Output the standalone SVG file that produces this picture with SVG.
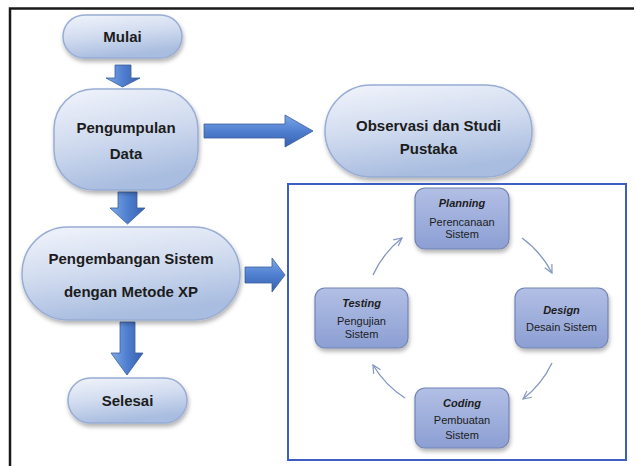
<svg xmlns="http://www.w3.org/2000/svg" width="637" height="466" viewBox="0 0 637 466">
<defs>
<linearGradient id="pillG" x1="0" y1="0" x2="0.3" y2="1">
<stop offset="0" stop-color="#f1f4fb"/>
<stop offset="0.5" stop-color="#d3ddf0"/>
<stop offset="1" stop-color="#a9bde0"/>
</linearGradient>
<linearGradient id="boxG" x1="0" y1="0" x2="0" y2="1">
<stop offset="0" stop-color="#b2bfe5"/>
<stop offset="1" stop-color="#8c9fd3"/>
</linearGradient>
<linearGradient id="arrV" x1="0" y1="0" x2="1" y2="0">
<stop offset="0" stop-color="#7fa8e6"/>
<stop offset="0.5" stop-color="#4f7fd0"/>
<stop offset="1" stop-color="#3960ad"/>
</linearGradient>
<linearGradient id="arrH" x1="0" y1="0" x2="0" y2="1">
<stop offset="0" stop-color="#7fa8e6"/>
<stop offset="0.5" stop-color="#4f7fd0"/>
<stop offset="1" stop-color="#3960ad"/>
</linearGradient>
<filter id="sh" x="-10%" y="-10%" width="130%" height="140%">
<feDropShadow dx="1" dy="3" stdDeviation="2" flood-color="#000" flood-opacity="0.3"/>
</filter>
<marker id="chev" viewBox="0 0 10 10" refX="9" refY="5" markerWidth="10" markerHeight="10" markerUnits="userSpaceOnUse" orient="auto">
<path d="M1,1 L9,5 L1,9" fill="none" stroke="#8596c0" stroke-width="1.2"/>
</marker>
<style>
.pill{fill:url(#pillG);stroke:#98acd4;stroke-width:1.5;filter:url(#sh)}
.box{fill:url(#boxG);stroke:#7384b4;stroke-width:1.2;filter:url(#sh)}
.big{font-family:"Liberation Sans",Arial,sans-serif;font-weight:bold;font-size:15px;fill:#1c1c1c;text-anchor:middle}
.t1{font-family:"Liberation Sans",Arial,sans-serif;font-weight:bold;font-style:italic;font-size:11px;fill:#1c1c1c;text-anchor:middle}
.t2{font-family:"Liberation Sans",Arial,sans-serif;font-size:11px;fill:#1c1c1c;text-anchor:middle}
.av{fill:url(#arrV);stroke:#3a5da0;stroke-width:0.8}
.ah{fill:url(#arrH);stroke:#3a5da0;stroke-width:0.8}
.cyc{fill:none;stroke:#8596c0;stroke-width:1.3;marker-end:url(#chev)}
</style>
</defs>
<rect width="637" height="466" fill="#ffffff"/>
<path d="M10,466 L10,8.5 L634,8.5" fill="none" stroke="#1a1a1a" stroke-width="2.5"/>
<rect id="xp-frame" x="288" y="184" width="338" height="276" fill="none" stroke="#3d5fc4" stroke-width="2"/>

<g id="connectors">
<path class="av" d="M115,65 L131,65 L131,78 L140,78 L122.5,87 L106,78 L115,78 Z"/>
<path class="ah" d="M204,124 L285,124 L285,115 L313,131 L285,147 L285,138 L204,138 Z"/>
<path class="av" d="M118,192 L137,192 L137,208 L145,208 L127.5,224 L110,208 L118,208 Z"/>
<path class="ah" d="M245,267 L272,267 L272,258 L285,275 L272,292 L272,283 L245,283 Z"/>
<path class="av" d="M120,322 L135,322 L135,353 L143,353 L127,375 L111,353 L120,353 Z"/>
<path class="cyc" d="M522,238 A100,100 0 0 1 552,273"/>
<path class="cyc" d="M552,363 A100,100 0 0 1 523,399"/>
<path class="cyc" d="M405,398 A100,100 0 0 1 373,365"/>
<path class="cyc" d="M373,275 A100,100 0 0 1 402,238"/>
</g>

<g id="mulai">
<rect class="pill" x="63" y="15" width="119" height="43" rx="21.5"/>
<text class="big" x="122.5" y="42">Mulai</text>
</g>
<g id="pengumpulan">
<rect class="pill" x="54" y="89" width="144" height="101" rx="40"/>
<text class="big" x="126" y="133">Pengumpulan</text>
<text class="big" x="126" y="159">Data</text>
</g>
<g id="observasi">
<rect class="pill" x="325" y="85" width="207" height="92" rx="46"/>
<text class="big" x="428.5" y="131">Observasi dan Studi</text>
<text class="big" x="428.5" y="154">Pustaka</text>
</g>
<g id="pengembangan">
<rect class="pill" x="22" y="227" width="218" height="93" rx="46"/>
<text class="big" x="131" y="264">Pengembangan Sistem</text>
<text class="big" x="131" y="297">dengan Metode XP</text>
</g>
<g id="selesai">
<rect class="pill" x="68" y="378" width="119" height="45" rx="22.5"/>
<text class="big" x="127.5" y="406">Selesai</text>
</g>

<g id="planning">
<rect class="box" x="415" y="188" width="94" height="61" rx="10"/>
<text class="t1" x="462" y="207">Planning</text>
<text class="t2" x="462" y="226">Perencanaan</text>
<text class="t2" x="462" y="238">Sistem</text>
</g>
<g id="design">
<rect class="box" x="515" y="288" width="93" height="60" rx="10"/>
<text class="t1" x="561.5" y="314">Design</text>
<text class="t2" x="561.5" y="331">Desain Sistem</text>
</g>
<g id="testing">
<rect class="box" x="315" y="288" width="93" height="60" rx="10"/>
<text class="t1" x="361.5" y="307">Testing</text>
<text class="t2" x="361.5" y="325">Pengujian</text>
<text class="t2" x="361.5" y="338">Sistem</text>
</g>
<g id="coding">
<rect class="box" x="415" y="388" width="94" height="60" rx="10"/>
<text class="t1" x="462" y="407">Coding</text>
<text class="t2" x="462" y="424">Pembuatan</text>
<text class="t2" x="462" y="439">Sistem</text>
</g>
</svg>
